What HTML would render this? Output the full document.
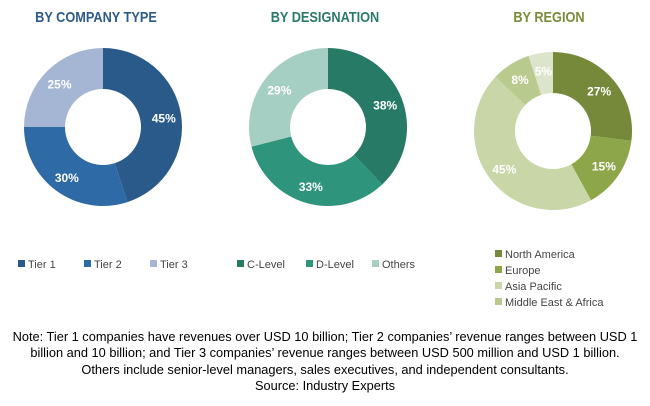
<!DOCTYPE html>
<html><head><meta charset="utf-8"><style>
html,body{margin:0;padding:0;background:#fff;width:650px;height:406px;overflow:hidden;font-family:"Liberation Sans",sans-serif}
</style></head><body>
<svg width="650" height="406" id="c">
<text x="96" y="22" text-anchor="middle" font-size="15" font-weight="bold" fill="#2c5b8a" transform="scale(0.85,1)" transform-origin="96 22">BY COMPANY TYPE</text>
<text x="325" y="22" text-anchor="middle" font-size="15" font-weight="bold" fill="#2a7a6a" transform="scale(0.85,1)" transform-origin="325 22">BY DESIGNATION</text>
<text x="549" y="22" text-anchor="middle" font-size="15" font-weight="bold" fill="#7a8c3a" transform="scale(0.85,1)" transform-origin="549 22">BY REGION</text>
<g id="charts"></g>
<g font-size="11" fill="#444" id="legends"></g>
<g font-size="12.8" fill="#000" text-anchor="middle">
<text x="325" y="341">Note: Tier 1 companies have revenues over USD 10 billion; Tier 2 companies’ revenue ranges between USD 1</text>
<text x="325" y="357">billion and 10 billion; and Tier 3 companies’ revenue ranges between USD 500 million and USD 1 billion.</text>
<text x="325" y="374">Others include senior-level managers, sales executives, and independent consultants.</text>
<text x="325" y="390">Source: Industry Experts</text>
</g>
</svg>
<script>
const companyLabels=["Tier 1","Tier 2","Tier 3"];
const companyValues=[45,30,25];
const designationLabels=["C-Level","D-Level","Others"];
const designationValues=[38,33,29];
const regionLabels=["North America","Europe","Asia Pacific","Middle East & Africa","Rest of World"];
const regionValues=[27,15,45,8,5];
const NS="http://www.w3.org/2000/svg";
const charts=[
 {cx:103,cy:127,labels:companyLabels,values:companyValues,colors:["#2a5a8a","#2e6aa6","#a4b6d4"],name:"company"},
 {cx:328,cy:127,labels:designationLabels,values:designationValues,colors:["#267a66","#2f947c","#a6cfc3"],name:"designation"},
 {cx:553,cy:131,labels:regionLabels,values:regionValues,colors:["#76883a","#8ea64a","#c9d6a8","#b8ca8e","#dde4cc"],name:"region"}
];
const g=document.getElementById('charts');
const R=79,r=38;
function pt(cx,cy,rad,f){const a=f*2*Math.PI-Math.PI/2;return [cx+rad*Math.cos(a),cy+rad*Math.sin(a)];}
charts.forEach(c=>{
 const tot=c.values.reduce((a,b)=>a+b,0);let acc=0;
 c.values.forEach((v,i)=>{
  const f0=acc/tot,f1=(acc+v)/tot;acc+=v;
  const [x0,y0]=pt(c.cx,c.cy,R,f0),[x1,y1]=pt(c.cx,c.cy,R,f1),[x2,y2]=pt(c.cx,c.cy,r,f1),[x3,y3]=pt(c.cx,c.cy,r,f0);
  const lg=(f1-f0)>0.5?1:0;
  const p=document.createElementNS(NS,'path');
  p.setAttribute('d',`M${x0},${y0}A${R},${R} 0 ${lg} 1 ${x1},${y1}L${x2},${y2}A${r},${r} 0 ${lg} 0 ${x3},${y3}Z`);
  p.setAttribute('fill',c.colors[i]);
  
  
  g.appendChild(p);
  const [lx,ly]=pt(c.cx,c.cy,(R+r)/2+3,(f0+f1)/2);
  const t=document.createElementNS(NS,'text');
  t.setAttribute('x',lx);t.setAttribute('y',ly+5);t.setAttribute('text-anchor','middle');
  t.setAttribute('font-size','12');t.setAttribute('font-weight','bold');t.setAttribute('fill','#fff');
  t.textContent=v+'%';
  
  
  g.appendChild(t);
 });
});
const L=document.getElementById('legends');
function leg(x,y,color,label){
 const s=document.createElementNS(NS,'rect');
 s.setAttribute('x',x);s.setAttribute('y',y-8);s.setAttribute('width',7);s.setAttribute('height',7);s.setAttribute('fill',color);
 
 
 L.appendChild(s);
 const t=document.createElementNS(NS,'text');
 t.setAttribute('x',x+10);t.setAttribute('y',y);t.textContent=label;
 
 
 L.appendChild(t);
}
const lx1=[18,84,150];companyLabels.forEach((l,i)=>leg(lx1[i],268,charts[0].colors[i],l));
const lx2=[237,306,372];designationLabels.forEach((l,i)=>leg(lx2[i],268,charts[1].colors[i],l));
[0,1,2,3].forEach(i=>leg(495,258+i*16,charts[2].colors[i],regionLabels[i]));
</script>
</body></html>
